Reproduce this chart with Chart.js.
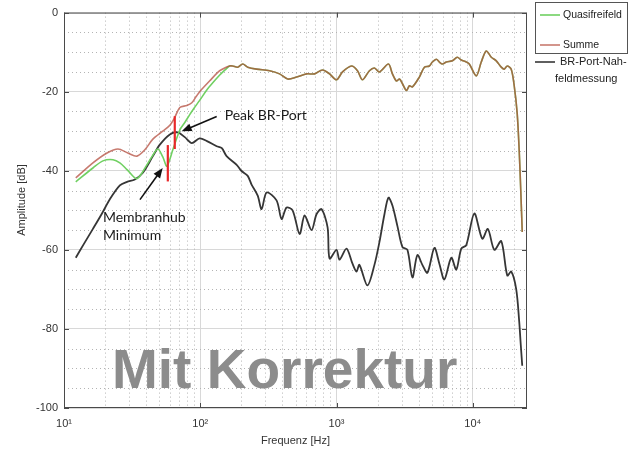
<!DOCTYPE html>
<html>
<head>
<meta charset="utf-8">
<script src="https://cdn.jsdelivr.net/npm/chart.js@4.4.1/dist/chart.umd.min.js"></script>
<style>
  html, body { margin: 0; padding: 0; background: #fff; }
  #c { display: block; }
</style>
</head>
<body>
<canvas id="c" width="640" height="456" style="width:640px;height:456px"></canvas>
<script>
// Frequenzgang-Daten
const summeLowFreq = [12.2, 16.3, 20.7, 24.9, 29.4, 34.3, 39.2, 44.9, 53.1, 59.8, 65, 70.8, 79.6, 86.7, 93, 99, 117, 139, 155];
const summeLowDb = [-41.8, -38, -35.5, -34.5, -35.5, -36.3, -34.7, -32, -30, -28.5, -26.5, -24, -23.5, -22.8, -21.3, -20, -17.3, -14.7, -13.8];

const quasiLowFreq = [12.2, 16.3, 19.3, 22.9, 25.7, 29, 34.3, 40.6, 44.1, 48.8, 53.1, 56.9, 62.9, 70.8, 77, 83.7, 90, 99, 112, 124, 139, 152];
const quasiLowDb = [-42.8, -39.3, -37.5, -37.2, -38, -39.7, -42, -38.5, -36.5, -34.5, -36.5, -38.8, -34.7, -29.7, -27.8, -25.8, -24.2, -22.2, -19.5, -17.7, -15.8, -14.5];

// ab ca. 160 Hz liegen Summe und Quasifreifeld aufeinander
const commonFreq = [164, 173, 188, 205, 223, 259, 323, 382, 438, 510, 603, 690, 789, 889, 1000, 1107, 1288, 1425, 1549, 1744, 1898, 2066, 2405, 2572, 2754, 2897, 3048, 3260, 3427, 3606, 4056, 4416, 4801, 5050, 5404, 5685, 5980, 6398, 7073, 7694, 8236, 8963, 9428, 10610, 11540, 12560, 13680, 14870, 16180, 17020, 17910, 19150, 20140, 21180, 21920, 22500, 23070];
const commonDb = [-13.5, -13.5, -13.8, -13, -13.8, -14.3, -14.7, -15.5, -16.8, -16.3, -15.5, -15.5, -14.5, -15.5, -17, -15, -13.5, -14.7, -17, -14.7, -14, -15, -13, -15.5, -17.3, -16.8, -18, -19.7, -18.5, -18.8, -16.3, -13.8, -13.5, -12.5, -11.8, -12.5, -13, -12.5, -12.2, -11.3, -12, -12.5, -13, -16, -12.5, -9.7, -11.3, -12.2, -13.8, -14.3, -13.5, -14.3, -18.5, -25.5, -35, -45, -55.5];

const nahFreq = [12.2, 14, 16.3, 19, 21.7, 25.7, 29, 33.1, 37.9, 44.9, 50.5, 59.8, 68.4, 77, 86.7, 99, 112, 132, 144, 156, 185, 200, 223, 238, 264, 282, 307, 363, 395, 430, 476, 536, 583, 656, 713, 776, 860, 889, 1000, 1052, 1184, 1310, 1402, 1472, 1686, 1898, 2066, 2248, 2405, 2572, 2799, 3048, 3313, 3606, 3921, 4266, 4646, 5224, 5685, 6185, 6956, 7569, 8236, 8963, 10260, 11740, 12900, 14390, 16180, 17910, 19150, 20840, 21900, 22500, 23070];
const nahDb = [-62, -58.5, -54.7, -50.8, -47.2, -43.7, -42.8, -42.2, -40.5, -36.3, -33.4, -30.8, -30.3, -31.5, -33, -31.8, -32.5, -33.8, -34.3, -36.3, -38.5, -40, -41.3, -43.5, -46.3, -49.7, -45.5, -47.5, -52.2, -49.3, -50, -56, -51.3, -55, -51, -49.7, -54.3, -62.2, -60, -62.5, -59.7, -63.5, -65.5, -63.8, -69, -63.8, -58, -51, -46.8, -48.8, -54, -59.3, -60, -67, -61.3, -63.8, -65.8, -59.5, -63.5, -67.5, -62, -65, -59.7, -58.8, -50.8, -57.2, -54.7, -60, -57.8, -66.5, -65.5, -70, -78, -84, -89.3];

const xTickValues = [10, 100, 1000, 10000];
const xTickLabels = ['10\u00B9', '10\u00B2', '10\u00B3', '10\u2074'];
const yTickValues = [0, -20, -40, -60, -80, -100];

// Beschriftungen im Diagramm (Positionen in Hz / dB)
const markers = [
  { f: 65, from: -26.2, to: -34.5 },
  { f: 57.8, from: -33.5, to: -42.7 }
];
const arrows = [
  { f1: 132, d1: -26.3, f2: 73, d2: -30 },
  { f1: 36.1, d1: -47.3, f2: 53, d2: -39.3 }
];
const notes = [
  { text: 'Peak BR-Port', f: 151, d: -26 },
  { text: 'Membranhub', f: 19.3, d: -51.8 },
  { text: 'Minimum', f: 19.3, d: -56.3 }
];

const summeColor = 'rgba(178,70,55,0.72)';
const quasiColor = 'rgb(112,208,98)';
const nahColor = '#363636';

const pts = (f, d) => f.map((x, i) => ({ x: x, y: d[i] }));

function arrow(ctx, x1, y1, x2, y2) {
  const a = Math.atan2(y2 - y1, x2 - x1);
  const len = 10, w = 4;
  ctx.beginPath();
  ctx.moveTo(x1, y1);
  ctx.lineTo(x2 - Math.cos(a) * len * 0.8, y2 - Math.sin(a) * len * 0.8);
  ctx.stroke();
  ctx.beginPath();
  ctx.moveTo(x2, y2);
  ctx.lineTo(x2 - Math.cos(a) * len + Math.sin(a) * w, y2 - Math.sin(a) * len - Math.cos(a) * w);
  ctx.lineTo(x2 - Math.cos(a) * len - Math.sin(a) * w, y2 - Math.sin(a) * len + Math.cos(a) * w);
  ctx.closePath();
  ctx.fill();
}

const decor = {
  id: 'decor',
  beforeDatasetsDraw(chart) {
    const { ctx, chartArea: a, scales: { x, y } } = chart;
    ctx.save();
    ctx.strokeStyle = '#b4b4b4';
    ctx.lineWidth = 1;
    ctx.setLineDash([1, 3]);
    for (let v = -95; v < 0; v += 5) {
      if (v % 20 === 0) continue;
      const py = Math.round(y.getPixelForValue(v)) + 0.5;
      ctx.beginPath(); ctx.moveTo(a.left, py); ctx.lineTo(a.right, py); ctx.stroke();
    }
    xTickValues.forEach(d => {
      for (let m = 2; m <= 9; m++) {
        const v = d * m;
        if (v > x.max) break;
        const px = Math.round(x.getPixelForValue(v)) + 0.5;
        ctx.beginPath(); ctx.moveTo(px, a.top); ctx.lineTo(px, a.bottom); ctx.stroke();
      }
    });
    ctx.restore();
  },
  afterDraw(chart) {
    const { ctx, chartArea: a, scales: { x, y } } = chart;
    ctx.save();

    // Rahmen und Ticks nach innen
    ctx.strokeStyle = '#4a4a4a';
    ctx.lineWidth = 1;
    ctx.strokeRect(a.left + 0.5, a.top + 0.5, a.right - a.left - 1, a.bottom - a.top - 1);
    ctx.beginPath();
    yTickValues.forEach(v => {
      const py = Math.round(y.getPixelForValue(v)) + 0.5;
      ctx.moveTo(a.left, py); ctx.lineTo(a.left + 5, py);
      ctx.moveTo(a.right, py); ctx.lineTo(a.right - 5, py);
    });
    xTickValues.forEach(v => {
      const px = Math.round(x.getPixelForValue(v)) + 0.5;
      ctx.moveTo(px, a.bottom); ctx.lineTo(px, a.bottom - 5);
      ctx.moveTo(px, a.top); ctx.lineTo(px, a.top + 5);
    });
    ctx.stroke();

    // Achsentitel
    ctx.fillStyle = '#333';
    ctx.font = '11px "Liberation Sans", Arial, sans-serif';
    ctx.textAlign = 'center';
    ctx.textBaseline = 'middle';
    ctx.fillText('Frequenz [Hz]', (a.left + a.right) / 2, 441);
    ctx.save();
    ctx.translate(22, 200);
    ctx.rotate(-Math.PI / 2);
    ctx.fillText('Amplitude [dB]', 0, 0);
    ctx.restore();

    // Legende
    ctx.strokeStyle = '#555';
    ctx.strokeRect(535.5, 2.5, 92, 51);
    ctx.textAlign = 'left';
    ctx.lineWidth = 1.6;
    ctx.strokeStyle = quasiColor;
    ctx.beginPath(); ctx.moveTo(540, 15); ctx.lineTo(560, 15); ctx.stroke();
    ctx.strokeStyle = summeColor;
    ctx.beginPath(); ctx.moveTo(540, 45); ctx.lineTo(560, 45); ctx.stroke();
    ctx.strokeStyle = nahColor;
    ctx.beginPath(); ctx.moveTo(535, 62); ctx.lineTo(555, 62); ctx.stroke();
    ctx.fillStyle = '#222';
    ctx.font = '10.5px "Liberation Sans", Arial, sans-serif';
    ctx.fillText('Quasifreifeld', 563, 15);
    ctx.fillText('Summe', 563, 45);
    ctx.font = '11px "Liberation Sans", Arial, sans-serif';
    ctx.fillText('BR-Port-Nah-', 560, 62);
    ctx.fillText('feldmessung', 555, 79);

    // rote Markierungen
    ctx.strokeStyle = '#e8282a';
    ctx.lineWidth = 2.2;
    markers.forEach(m => {
      const px = x.getPixelForValue(m.f);
      ctx.beginPath();
      ctx.moveTo(px, y.getPixelForValue(m.from));
      ctx.lineTo(px, y.getPixelForValue(m.to));
      ctx.stroke();
    });

    // Pfeile
    ctx.strokeStyle = '#111';
    ctx.fillStyle = '#111';
    ctx.lineWidth = 1.6;
    arrows.forEach(p => arrow(ctx,
      x.getPixelForValue(p.f1), y.getPixelForValue(p.d1),
      x.getPixelForValue(p.f2), y.getPixelForValue(p.d2)));

    ctx.font = '14px Lato, "Open Sans", sans-serif';
    ctx.fillStyle = '#1a1a1a';
    ctx.textBaseline = 'middle';
    notes.forEach(n => ctx.fillText(n.text, x.getPixelForValue(n.f), y.getPixelForValue(n.d)));

    // Wasserzeichen
    ctx.font = 'bold 55px "Liberation Sans", Arial, sans-serif';
    ctx.fillStyle = '#8c8c8c';
    ctx.textBaseline = 'alphabetic';
    ctx.fillText('Mit Korrektur', x.getPixelForValue(22.5), y.getPixelForValue(-95));

    ctx.restore();
  }
};

new Chart(document.getElementById('c'), {
  type: 'line',
  data: {
    datasets: [
      { label: 'Summe', data: pts(summeLowFreq.concat(commonFreq), summeLowDb.concat(commonDb)),
        borderColor: summeColor, borderWidth: 1.6 },
      { label: 'Quasifreifeld', data: pts(quasiLowFreq.concat(commonFreq), quasiLowDb.concat(commonDb)),
        borderColor: quasiColor, borderWidth: 1.6 },
      { label: 'BR-Port-Nahfeldmessung', data: pts(nahFreq, nahDb),
        borderColor: nahColor, borderWidth: 1.8 }
    ]
  },
  options: {
    responsive: false,
    animation: false,
    layout: { padding: { left: 0, right: 113, top: 8, bottom: 0 } },
    elements: { point: { radius: 0 }, line: { tension: 0.3 } },
    plugins: { legend: { display: false }, tooltip: { enabled: false } },
    scales: {
      x: {
        type: 'logarithmic',
        min: 10,
        max: 25000,
        afterBuildTicks: s => { s.ticks = xTickValues.map(v => ({ value: v })); },
        afterFit: s => { s.height = 48; },
        ticks: {
          color: '#333',
          padding: 9,
          maxRotation: 0,
          autoSkip: false,
          font: { size: 11, family: '"Liberation Sans", Arial, sans-serif' },
          callback: v => xTickLabels[xTickValues.indexOf(v)] || ''
        },
        grid: { color: '#d8d8d8', drawTicks: false },
        border: { display: false }
      },
      y: {
        min: -100,
        max: 0,
        afterBuildTicks: s => { s.ticks = yTickValues.map(v => ({ value: v })); },
        afterFit: s => { s.width = 64; },
        ticks: {
          color: '#333',
          padding: 6,
          font: { size: 11, family: '"Liberation Sans", Arial, sans-serif' }
        },
        grid: { color: '#d8d8d8', drawTicks: false },
        border: { display: false }
      }
    }
  },
  plugins: [decor]
});
</script>
</body>
</html>
